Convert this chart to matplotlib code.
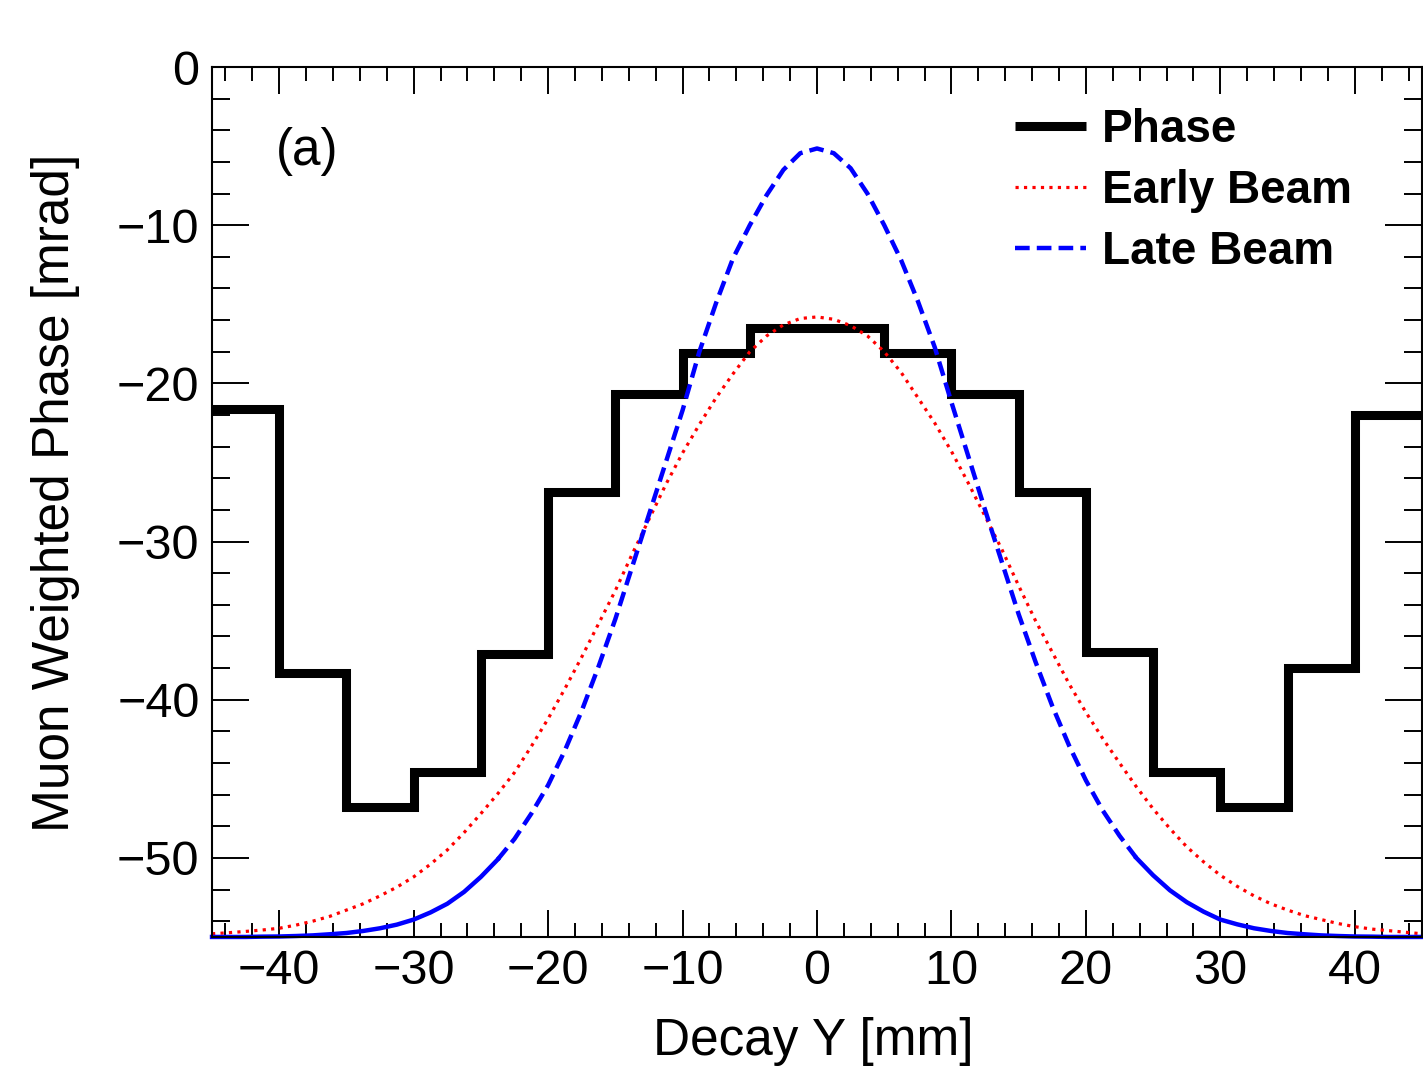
import numpy as np
import matplotlib.pyplot as plt
from matplotlib.ticker import MultipleLocator
from matplotlib.lines import Line2D

plt.rcParams['font.family'] = ['Liberation Sans', 'DejaVu Sans']

# ---------------------------------------------
#  Muon weighted phase vs decay Y
# ---------------------------------------------

# Phase histogram, 5 mm bins
bin_edges = [-45, -40, -35, -30, -25, -20, -15, -10, -5, 0,
             5, 10, 15, 20, 25, 30, 35, 40, 45]
phase = [-21.6, -38.3, -46.8, -44.6, -37.1, -26.9, -20.7, -18.1, -16.5,
         -16.5, -18.1, -20.7, -26.9, -37.0, -44.6, -46.8, -38.0, -22.0]

# Beam profiles (every 1.25 mm)
beam_y = [-45, -43.75, -42.5, -41.25, -40, -38.75, -37.5, -36.25, -35,
          -33.75, -32.5, -31.25, -30, -28.75, -27.5, -26.25, -25, -23.75,
          -22.5, -21.25, -20, -18.75, -17.5, -16.25, -15, -13.75, -12.5,
          -11.25, -10, -8.75, -7.5, -6.25, -5, -3.75, -2.5, -1.25, 0,
          1.25, 2.5, 3.75, 5, 6.25, 7.5, 8.75, 10, 11.25, 12.5, 13.75, 15,
          16.25, 17.5, 18.75, 20, 21.25, 22.5, 23.75, 25, 26.25, 27.5, 28.75,
          30, 31.25, 32.5, 33.75, 35, 36.25, 37.5, 38.75, 40, 41.25, 42.5,
          43.75, 45]
early_beam = [-54.8, -54.73, -54.65, -54.56, -54.45, -54.25, -54.0, -53.7,
              -53.3, -52.9, -52.4, -51.85, -51.2, -50.4, -49.5, -48.4, -47.2,
              -45.95, -44.6, -42.95, -41.2, -39.3, -37.3, -35.2, -33.1, -30.8,
              -28.6, -26.4, -24.4, -22.6, -20.9, -19.4, -18.0, -17.0, -16.3,
              -15.9, -15.8,
              -15.95, -16.35, -17.0, -18.0, -19.3, -20.9, -22.5, -24.3, -26.3,
              -28.4, -30.5, -32.8, -35.0, -37.0, -39.0, -40.8, -42.45, -44.0,
              -45.5, -46.9, -48.15, -49.3, -50.25, -51.1, -51.8, -52.4, -52.9,
              -53.3, -53.65, -53.9, -54.15, -54.35, -54.5, -54.6, -54.7, -54.8]
late_beam = [-55.0, -55.0, -55.0, -54.98, -54.97, -54.94, -54.9, -54.83,
             -54.75, -54.62, -54.45, -54.22, -53.9, -53.45, -52.9, -52.15,
             -51.2, -50.1, -48.8, -47.2, -45.4, -43.2, -40.7, -37.9, -34.9,
             -31.6, -28.3, -25.0, -21.7, -18.0, -14.9, -12.1, -10.0, -8.1,
             -6.5, -5.45, -5.15,
             -5.45, -6.4, -8.0, -10.0, -12.2, -14.8, -17.7, -21.2, -24.6,
             -28.0, -31.3, -34.6, -37.6, -40.4, -42.9, -45.1, -47.0, -48.6,
             -50.0, -51.1, -52.05, -52.8, -53.4, -53.9, -54.2, -54.45, -54.62,
             -54.75, -54.83, -54.9, -54.94, -54.97, -54.98, -55.0, -55.0, -55.0]

beam_y = np.array(beam_y)
early_beam = np.array(early_beam)
late_beam = np.array(late_beam)

fig = plt.figure(figsize=(14.23, 10.74), dpi=100)
ax = fig.add_axes([0.149, 0.1276, 0.8503, 0.8100])

# curves
ax.plot(beam_y, early_beam, color='red', linestyle=':', linewidth=2.3,
        clip_on=False)
core = np.abs(beam_y) <= 24
ax.plot(beam_y[core], late_beam[core], color='blue', linewidth=3.2,
        linestyle=(0, (3.3, 1.6)))
# tails look solid in the original
left = beam_y <= -23.75
right = beam_y >= 23.75
ax.plot(beam_y[left], late_beam[left], color='blue', linewidth=3.2,
        clip_on=False)
ax.plot(beam_y[right], late_beam[right], color='blue', linewidth=3.2,
        clip_on=False)

steps = ax.stairs(phase, bin_edges, baseline=None, color='black', linewidth=6.5)
steps.set_joinstyle('miter')

ax.set_xlim(-45, 45)
ax.set_ylim(-55, 0)

ax.xaxis.set_major_locator(MultipleLocator(10))
ax.xaxis.set_minor_locator(MultipleLocator(2))
ax.yaxis.set_major_locator(MultipleLocator(10))
ax.yaxis.set_minor_locator(MultipleLocator(2))

ax.tick_params(axis='both', which='both', direction='in', top=True, right=True,
               width=1.4, labelsize=35)
ax.tick_params(axis='x', which='major', length=19.5, pad=9)
ax.tick_params(axis='x', which='minor', length=10)
ax.tick_params(axis='y', which='major', length=26.5, pad=9)
ax.tick_params(axis='y', which='minor', length=13)
for s in ax.spines.values():
    s.set_linewidth(1.5)

ax.set_xlabel('Decay Y [mm]', fontsize=37)
ax.set_ylabel('Muon Weighted Phase [mrad]', fontsize=37)
ax.xaxis.set_label_coords(0.497, -0.092)
ax.yaxis.set_label_coords(-0.109, 0.511)

ax.text(0.053, 0.903, '(a)', transform=ax.transAxes, fontsize=37,
        ha='left', va='center')

handles = [
    Line2D([], [], color='black', linewidth=6.5, solid_capstyle='butt'),
    Line2D([], [], color='red', linestyle=':', linewidth=2.3),
    Line2D([], [], color='blue', linestyle=(0, (3.3, 1.6)), linewidth=3.2),
]
ax.legend(handles, ['Phase', 'Early Beam', 'Late Beam'], loc='upper left',
          bbox_to_anchor=(0.6636, 0.953), frameon=False,
          prop={'weight': 'bold', 'size': 33}, handlelength=1.55,
          handletextpad=0.35, labelspacing=0.375, borderaxespad=0, borderpad=0)

fig.savefig('out.png', dpi=100)
